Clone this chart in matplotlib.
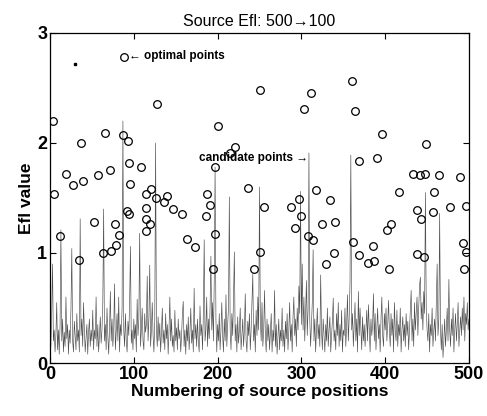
import matplotlib
matplotlib.use("Agg")
import matplotlib.pyplot as plt
import numpy as np

plt.rcParams["font.family"] = ["Liberation Sans", "DejaVu Sans"]

# Efl value at each of the 500 source positions (rows of 25)
efl_values = [
    0.15, 0.45, 0.90, 0.20, 0.30, 0.10, 0.25, 0.55, 0.12, 0.30, 0.08, 0.35, 1.21, 0.20, 0.40, 0.10, 0.28, 0.15, 0.60, 0.22, 0.35, 0.08, 0.30, 0.18, 0.50,
    1.04, 0.20, 0.10, 0.38, 0.25, 0.12, 0.45, 0.20, 0.30, 0.10, 1.31, 0.25, 0.40, 0.15, 0.55, 0.30, 0.10, 0.22, 0.35, 0.08, 0.28, 0.40, 0.15, 0.30, 0.20,
    0.48, 0.12, 0.30, 0.22, 0.60, 0.15, 0.35, 0.10, 0.25, 0.42, 0.18, 0.30, 0.55, 1.40, 0.20, 0.35, 0.12, 0.50, 0.25, 0.08, 0.30, 0.65, 0.20, 0.40, 0.15,
    0.30, 0.72, 0.12, 0.28, 0.45, 0.20, 0.60, 0.10, 0.35, 0.25, 0.50, 2.20, 0.30, 0.15, 0.45, 0.20, 0.10, 0.38, 0.25, 0.55, 1.06, 0.18, 0.30, 0.12, 0.40,
    0.22, 0.35, 0.10, 0.58, 0.25, 0.40, 1.18, 0.15, 0.30, 0.50, 0.20, 0.12, 0.45, 0.28, 0.35, 0.79, 0.20, 0.40, 0.89, 0.15, 0.30, 0.55, 0.25, 0.10, 0.38,
    2.00, 0.30, 0.15, 0.42, 0.20, 0.36, 0.10, 0.28, 0.50, 0.18, 0.30, 0.12, 0.45, 0.22, 0.35, 0.08, 0.30, 0.60, 0.20, 0.40, 0.15, 0.25, 0.10, 0.48, 0.20,
    0.32, 0.12, 0.40, 0.22, 0.30, 0.10, 0.25, 0.45, 0.56, 0.15, 0.30, 0.08, 0.35, 0.20, 0.42, 0.12, 0.28, 0.50, 0.18, 0.30, 0.10, 0.68, 0.22, 0.35, 0.15,
    0.40, 0.20, 0.10, 0.52, 0.25, 0.35, 0.12, 0.45, 1.12, 0.20, 0.30, 0.60, 0.15, 0.40, 0.22, 0.50, 0.97, 0.30, 0.55, 0.20, 0.75, 1.78, 0.40, 0.10, 0.35,
    0.20, 0.45, 0.12, 0.30, 0.55, 0.25, 0.10, 0.40, 0.20, 0.62, 0.15, 0.35, 0.50, 1.51, 0.30, 0.12, 0.45, 0.25, 0.60, 1.01, 0.20, 0.35, 0.10, 0.42, 0.18,
    0.30, 0.50, 0.12, 0.25, 0.40, 0.15, 0.30, 0.63, 0.20, 0.10, 0.38, 0.25, 0.45, 0.12, 0.30, 0.55, 0.81, 0.20, 0.35, 0.10, 0.48, 0.25, 0.60, 0.30, 1.60,
    0.40, 0.20, 0.55, 0.15, 0.30, 0.66, 0.25, 0.10, 0.40, 0.20, 0.35, 0.12, 0.28, 0.45, 0.10, 0.30, 0.20, 0.66, 0.15, 0.35, 0.08, 0.25, 0.40, 0.12, 0.30,
    0.20, 0.50, 0.15, 0.30, 0.10, 0.38, 0.22, 0.45, 0.12, 0.30, 0.55, 0.20, 0.35, 0.10, 0.42, 0.60, 0.25, 0.40, 0.15, 0.50, 0.30, 0.70, 0.45, 1.56, 0.35,
    0.90, 0.30, 0.60, 0.20, 0.45, 0.75, 0.25, 0.50, 1.91, 0.40, 0.15, 0.35, 0.55, 1.03, 0.20, 0.40, 0.10, 0.30, 0.50, 0.22, 0.35, 0.15, 0.80, 0.30, 0.12,
    0.40, 0.25, 0.10, 0.35, 0.20, 0.50, 0.15, 0.30, 0.42, 0.10, 0.25, 0.38, 0.59, 0.20, 0.30, 0.12, 0.45, 0.25, 0.55, 0.15, 0.35, 0.20, 0.48, 0.10, 0.30,
    0.25, 0.50, 0.15, 0.35, 0.62, 0.20, 0.40, 0.72, 1.89, 0.30, 0.45, 0.15, 0.35, 0.55, 0.20, 0.40, 0.10, 0.65, 0.25, 0.50, 0.30, 0.12, 0.42, 0.20, 0.35,
    0.15, 0.30, 0.48, 0.20, 0.53, 0.30, 0.10, 0.40, 0.25, 0.35, 0.63, 0.20, 0.45, 0.12, 0.30, 0.50, 0.22, 0.35, 0.10, 0.40, 0.60, 0.25, 0.15, 0.45, 0.30,
    0.50, 0.20, 0.35, 0.57, 0.30, 0.15, 0.45, 0.25, 0.40, 0.10, 0.55, 0.30, 0.20, 0.48, 0.15, 0.35, 0.25, 0.50, 0.10, 0.30, 0.42, 0.20, 0.35, 0.15, 0.45,
    0.25, 0.38, 0.12, 0.30, 0.50, 0.66, 0.20, 0.40, 0.15, 0.55, 0.30, 0.45, 0.60, 0.25, 0.50, 0.70, 0.78, 0.40, 0.55, 0.30, 0.65, 0.45, 1.55, 0.50, 0.30,
    0.20, 0.45, 0.10, 0.35, 0.25, 0.50, 0.15, 0.30, 0.40, 0.20, 0.55, 0.90, 0.25, 0.40, 1.36, 0.30, 0.12, 0.35, 0.05, 0.20, 0.40, 0.15, 0.30, 0.50, 0.20,
    0.76, 0.30, 0.15, 0.40, 0.25, 0.50, 0.10, 0.30, 0.45, 0.20, 0.35, 0.55, 0.15, 0.30, 0.42, 0.25, 0.50, 0.30, 0.60, 0.20, 0.45, 0.35, 0.55, 0.30, 0.40,
]

# candidate points (circles)
cand_pos = [4, 5, 12, 19, 28, 35, 37, 39, 52, 57, 63, 66, 72, 73, 77, 79, 82, 87, 88,
            92, 93, 94, 94, 96, 109, 114, 114, 115, 115, 119, 121, 127, 128,
            136, 140, 147, 158, 164, 173, 186, 187, 191, 194, 197, 197, 200,
            215, 221, 236, 244, 251, 251, 255,
            287, 292, 297, 299, 303, 308, 311, 314, 317, 324, 329, 334, 339, 340,
            360, 361, 364, 369, 369, 379, 386, 387, 390, 396, 402, 405, 407,
            417, 433, 438, 438, 441, 443, 446, 448, 449, 457, 458, 464, 477, 489,
            493, 494, 496, 497]
cand_val = [2.20, 1.54, 1.15, 1.72, 1.62, 0.94, 2.00, 1.65, 1.28, 1.71, 1.00, 2.09, 1.75, 1.02, 1.26, 1.07, 1.16, 2.07, 2.78,
            1.38, 2.02, 1.82, 1.35, 1.63, 1.78, 1.54, 1.31, 1.41, 1.20, 1.26, 1.58, 1.50, 2.35,
            1.46, 1.52, 1.40, 1.35, 1.13, 1.05, 1.34, 1.54, 1.44, 0.85, 1.17, 1.78, 2.15,
            1.91, 1.96, 1.59, 0.85, 2.48, 1.01, 1.42,
            1.42, 1.23, 1.49, 1.34, 2.31, 1.15, 2.45, 1.12, 1.57, 1.26, 0.90, 1.48, 1.00, 1.28,
            2.56, 1.10, 2.29, 1.84, 0.98, 0.91, 1.06, 0.93, 1.86, 2.08, 1.21, 0.85, 1.26,
            1.55, 1.72, 1.39, 0.99, 1.71, 1.31, 0.96, 1.72, 1.99, 1.37, 1.55, 1.71, 1.42, 1.69,
            1.09, 0.85, 1.01, 1.43]

# stray dot in the original figure
dot_pos = [30]
dot_val = [2.72]

fig = plt.figure(figsize=(4.87, 4.16), dpi=100)
ax = fig.add_axes([0.1027, 0.1274, 0.8603, 0.7933])

ax.plot(np.arange(1, len(efl_values) + 1), efl_values, color="0.3", lw=0.45)
ax.plot(cand_pos, cand_val, "o", mfc="none", mec="black", ms=5.5, mew=0.9)
ax.plot(dot_pos, dot_val, "s", color="black", ms=1.8)

ax.set_xlim(0, 500)
ax.set_ylim(0, 3)
ax.set_xticks([0, 100, 200, 300, 400, 500])
ax.set_yticks([0, 1, 2, 3])
ax.tick_params(direction="in", top=True, right=True, length=4, width=0.8,
               labelsize=13, pad=2)
for lbl in ax.get_xticklabels() + ax.get_yticklabels():
    lbl.set_fontweight("bold")
for s in ax.spines.values():
    s.set_linewidth(0.9)

ax.set_xlabel("Numbering of source positions", fontsize=12.5, fontweight="bold", labelpad=1)
ax.set_ylabel("Efl value", fontsize=12.5, fontweight="bold", labelpad=2)
ax.set_title("Source Efl: 500\u2192100", fontsize=11.5, pad=5)

ax.text(94, 2.79, "\u2190 optimal points", fontsize=8.5, fontweight="bold",
        ha="left", va="center", family=["Liberation Sans", "DejaVu Sans"])
ax.text(308, 1.86, "candidate points \u2192", fontsize=8.5, fontweight="bold",
        ha="right", va="center", family=["Liberation Sans", "DejaVu Sans"])

fig.savefig("out.png", dpi=100)
